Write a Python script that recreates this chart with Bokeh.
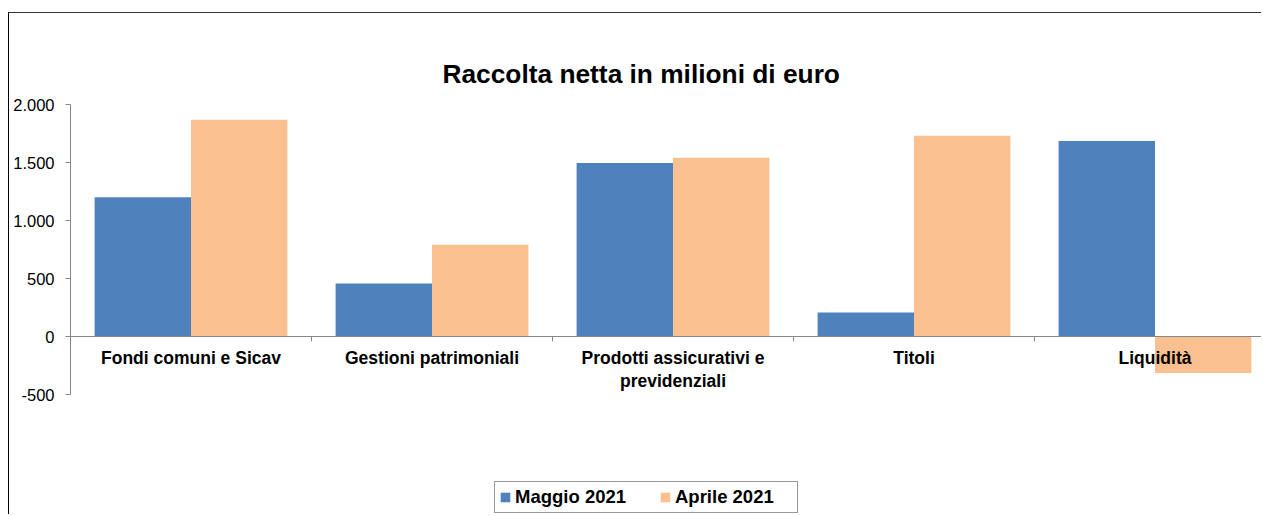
from bokeh.plotting import figure
from bokeh.models import Range1d, FixedTicker, Span, Legend, LegendItem
from bokeh.core.properties import value
from bokeh.embed import file_html
from bokeh.resources import INLINE

# ---- data ----
categories = ["Fondi comuni e Sicav", "Gestioni patrimoniali",
              "Prodotti assicurativi e\nprevidenziali", "Titoli", "Liquidità"]
maggio_2021 = [1200, 457, 1495, 207, 1685]
aprile_2021 = [1868, 790, 1540, 1730, -315]
series_names = ["Maggio 2021", "Aprile 2021"]
y_ticks = [-500, 0, 500, 1000, 1500, 2000]
y_tick_labels = ["-500", "0", "500", "1.000", "1.500", "2.000"]
title_text = "Raccolta netta in milioni di euro"

# ---- layout constants ----
W, H = 1253, 502
border_left, border_top = 61, 91
frame_w = W - border_left
frame_h = H - border_top
px_per_unit = 0.116
cat_px = 241
y_top = 2000
y_bottom = y_top - frame_h / px_per_unit
x_start = -0.5
x_end = x_start + frame_w / cat_px

FONT = "Liberation Sans"
BLUE = "#4F81BD"
ORANGE = "#FAC090"
AXIS = "#868686"

p = figure(width=W, height=H, output_backend="svg", toolbar_location=None,
           x_range=Range1d(x_start, x_end), y_range=Range1d(y_bottom, y_top),
           x_axis_location=None, min_border_left=border_left, min_border_right=0,
           min_border_top=border_top, min_border_bottom=0)
p.styles = {"border-left": "1px solid #000", "border-top": "1px solid #333",
            "margin-top": "12px", "margin-left": "8px"}
p.outline_line_color = None
p.xgrid.visible = False
p.ygrid.visible = False
p.background_fill_color = "white"
p.border_fill_color = "white"

p.title.text = title_text
p.title.align = "left"
p.title.offset = 372
p.title.text_font = FONT
p.title.text_font_size = "26.3px"
p.title.text_font_style = "bold"
p.title.text_color = "black"
p.title.standoff = 32

xs = list(range(len(categories)))
bw = 0.4
r1 = p.vbar(x=[x - bw / 2 for x in xs], top=maggio_2021, bottom=0, width=bw,
            fill_color=BLUE, line_color=None)
r2 = p.vbar(x=[x + bw / 2 for x in xs], top=aprile_2021, bottom=0, width=bw,
            fill_color=ORANGE, line_color=None)

# zero line (category axis)
p.add_layout(Span(location=0, dimension="width", line_color=AXIS, line_width=1))
# category boundary tick marks
bounds_x = [x + 0.5 for x in xs]
tick_units = 5 / px_per_unit
p.segment(x0=bounds_x, y0=[0] * len(bounds_x), x1=bounds_x,
          y1=[-tick_units] * len(bounds_x), line_color=AXIS, line_width=1)

# category labels
p.text(x=xs, y=[0] * len(xs), text=categories, text_align="center",
       text_baseline="top", y_offset=11, text_font=value(FONT),
       text_font_style="bold", text_font_size="17.5px", text_color="black",
       text_line_height=1.15)

ax = p.yaxis[0]
ax.ticker = FixedTicker(ticks=y_ticks)
ax.major_label_overrides = {t: l for t, l in zip(y_ticks, y_tick_labels)}
ax.bounds = (min(y_ticks), max(y_ticks))
ax.axis_line_color = AXIS
ax.major_tick_line_color = AXIS
ax.major_tick_out = 5
ax.major_tick_in = 0
ax.minor_tick_line_color = None
ax.major_label_standoff = 11
ax.major_label_text_font = FONT
ax.major_label_text_font_size = "16.5px"
ax.major_label_text_color = "black"

legend = Legend(items=[LegendItem(label=series_names[0], renderers=[r1]),
                       LegendItem(label=series_names[1], renderers=[r2])],
                orientation="horizontal", location=(424, 2), margin=0,
                padding=4, spacing=26, label_standoff=4,
                glyph_width=12, glyph_height=12, label_height=12, label_width=118,
                label_text_font=FONT, label_text_font_size="18.5px",
                label_text_font_style="bold", label_text_color="black",
                border_line_color="#333333", border_line_width=1.5,
                background_fill_color="white", background_fill_alpha=1)
p.add_layout(legend)

open("out.html", "w").write(file_html(p, INLINE))
